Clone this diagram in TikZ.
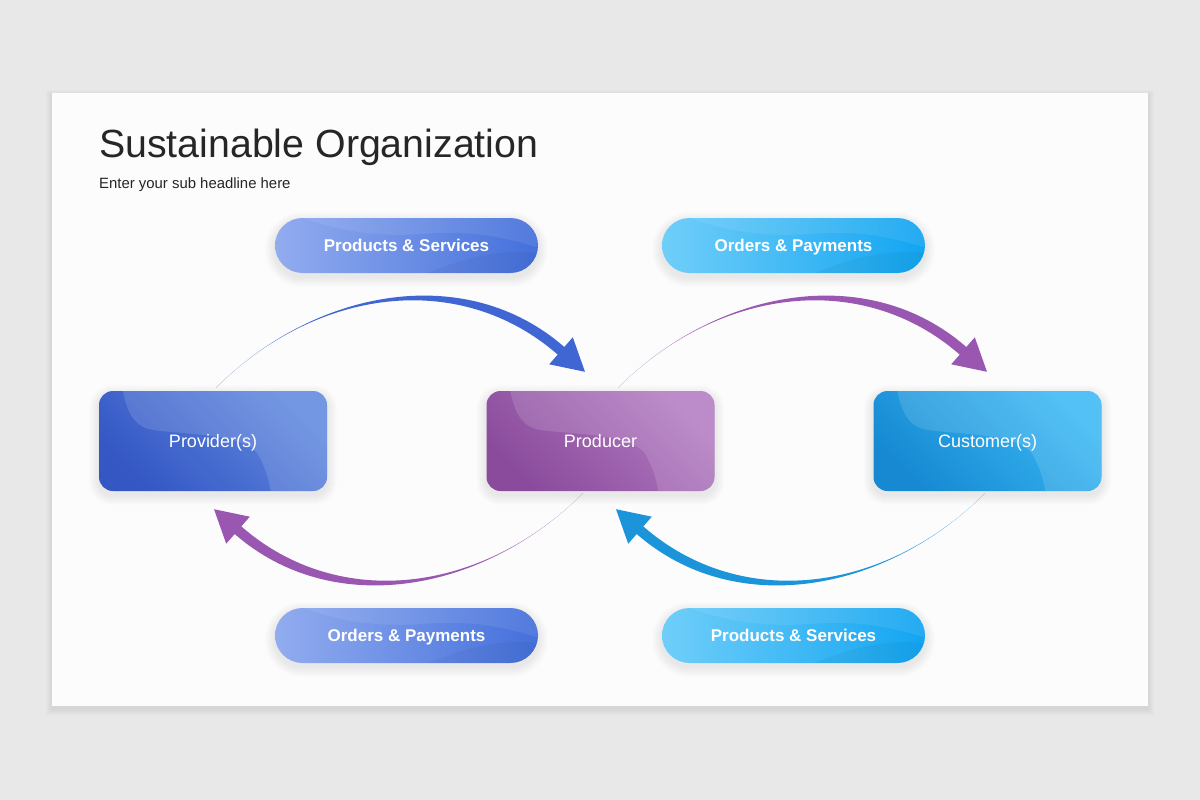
\documentclass[tikz,border=0pt]{standalone}
\usepackage{fontspec}
\setmainfont{Liberation Sans}
\usetikzlibrary{calc}
\pgfdeclarelayer{bottom}
\pgfdeclarelayer{background}
\pgfsetlayers{bottom,background,main}
\definecolor{bgout}{HTML}{E9E8E9}
\definecolor{slide}{HTML}{FCFCFC}
\definecolor{ttl}{HTML}{262626}
\definecolor{provD}{HTML}{3457C4}
\definecolor{provL}{HTML}{6088DF}
\definecolor{prodD}{HTML}{8A4B9C}
\definecolor{prodL}{HTML}{B27BC1}
\definecolor{custD}{HTML}{1689D2}
\definecolor{custL}{HTML}{3AB8F4}
\definecolor{pbL}{HTML}{92ACEF}
\definecolor{pbD}{HTML}{4470DB}
\definecolor{pcL}{HTML}{70CEF9}
\definecolor{pcD}{HTML}{12A5F1}
\definecolor{arB}{HTML}{3F66D2}
\definecolor{arP}{HTML}{9957B1}
\definecolor{arC}{HTML}{1C94DA}
\newcommand\nodeshadow[2]{%
  \foreach \k in {1,...,10}{%
    \pgfmathsetmacro\rr{#2+\k}
    \fill[black, opacity=0.008, rounded corners=\rr pt]
      ($(#1.north west)+(-\k,-\k+4)$) rectangle ($(#1.south east)+(\k,\k+4)$);
  }}
\tikzset{
  actor/.style={rectangle, rounded corners=14pt, minimum width=228pt, minimum height=100pt,
    inner sep=0pt},
  pill/.style={rectangle, rounded corners=27.5pt, minimum width=263pt, minimum height=55pt,
    inner sep=0pt},
  actortext/.style={text=white, font=\fontsize{18}{20}\selectfont, inner sep=0pt, text height=13pt, text depth=4pt},
  pilltext/.style={text=white, font=\bfseries\fontsize{17}{20}\selectfont, inner sep=0pt, text height=12.5pt, text depth=3.5pt},
  boxwave/.pic={
    \clip[rounded corners=14pt] (0,0) rectangle (228,100);
    \fill[white, opacity=0.13] (24,0) .. controls (30,30) and (40,38) .. (60,40)
      .. controls (100,44) and (150,45) .. (160,65)
      .. controls (168,80) and (170,90) .. (172,100) -- (230,100) -- (230,-2) -- cycle;
  },
  pillwave/.pic={
    \clip[rounded corners=27.5pt] (0,0) rectangle (263,55);
    \fill[white, opacity=0.08] (0,0) -- (28,0) .. controls (60,12) and (100,20) .. (150,16)
      .. controls (200,12) and (230,20) .. (265,30) -- (265,-2) -- cycle;
    \fill[black, opacity=0.04] (150,56) .. controls (190,40) and (230,30) .. (265,36) -- (265,56) -- cycle;
  },
  tarrow/.pic={
    \fill (0,0) .. controls (100,-100) and (250.5,-126.3) .. (348.3,-40.8)
      -- (356.8,-50.5) -- (369,-16) -- (333.2,-23.5) -- (341.7,-33.2)
      .. controls (243.9,-118.7) and (100,-100) .. (0,0) -- cycle;
  }
}
\begin{document}
\begin{tikzpicture}[x=1pt, y=-1pt]
\useasboundingbox (0,0) rectangle (1200,800);
\begin{pgfonlayer}{bottom}
\fill[bgout] (0,0) rectangle (1200,800);
\foreach \k in {1,...,6}{\fill[black, opacity=0.012] (52-\k,93-\k+3) rectangle (1148+\k,706+\k+3);}
\fill[slide] (52,93) rectangle (1148,706);
\end{pgfonlayer}

\node[anchor=base west, inner sep=0pt, text=ttl, font=\fontsize{39.3}{48}\selectfont] (title) at (99,157) {Sustainable Organization};
\node[anchor=base west, inner sep=0pt, text=ttl, font=\fontsize{14.9}{18}\selectfont] (sub) at (99,188) {Enter your sub headline here};

% actors
\node[actor, top color=provL, bottom color=provD, shading angle=-45] (prov) at (213,441) {};
\pic at (prov.north west) {boxwave};
\node[actortext] (provt) at ($(prov.center)+(0,1.5)$) {Provider(s)};
\node[actor, top color=prodL, bottom color=prodD, shading angle=-45] (prod) at (600.5,441) {};
\pic at (prod.north west) {boxwave};
\node[actortext] (prodt) at ($(prod.center)+(0,1.5)$) {Producer};
\node[actor, top color=custL, bottom color=custD, shading angle=-45] (cust) at (987.5,441) {};
\pic at (cust.north west) {boxwave};
\node[actortext] (custt) at ($(cust.center)+(0,1.5)$) {Customer(s)};

% pills
\node[pill, left color=pbL, right color=pbD] (p1) at (406.5,245.5) {};
\pic at (p1.north west) {pillwave};
\node[pilltext] (p1t) at ($(p1.center)+(0,1)$) {Products \& Services};
\node[pill, left color=pcL, right color=pcD] (p2) at (793.5,245.5) {};
\pic at (p2.north west) {pillwave};
\node[pilltext] (p2t) at ($(p2.center)+(0,1)$) {Orders \& Payments};
\node[pill, left color=pbL, right color=pbD] (p3) at (406.5,635.5) {};
\pic at (p3.north west) {pillwave};
\node[pilltext] (p3t) at ($(p3.center)+(0,1)$) {Orders \& Payments};
\node[pill, left color=pcL, right color=pcD] (p4) at (793.5,635.5) {};
\pic at (p4.north west) {pillwave};
\node[pilltext] (p4t) at ($(p4.center)+(0,1)$) {Products \& Services};

\begin{pgfonlayer}{background}
  \nodeshadow{prov}{14}
  \nodeshadow{prod}{14}
  \nodeshadow{cust}{14}
  \nodeshadow{p1}{27.5}
  \nodeshadow{p2}{27.5}
  \nodeshadow{p3}{27.5}
  \nodeshadow{p4}{27.5}
\end{pgfonlayer}

% arrows
\coordinate (a1) at ($(prov.north)+(3,-3)$);
\coordinate (a2) at ($(prod.north)+(17.5,-3)$);
\coordinate (a3) at ($(prod.south)+(-17.5,2)$);
\coordinate (a4) at ($(cust.south)+(-2.5,2)$);
\pic[color=arB] at (a1) {tarrow};
\pic[color=arP] at (a2) {tarrow};
\pic[color=arP, rotate=180] at (a3) {tarrow};
\pic[color=arC, rotate=180] at (a4) {tarrow};
\end{tikzpicture}
\end{document}
